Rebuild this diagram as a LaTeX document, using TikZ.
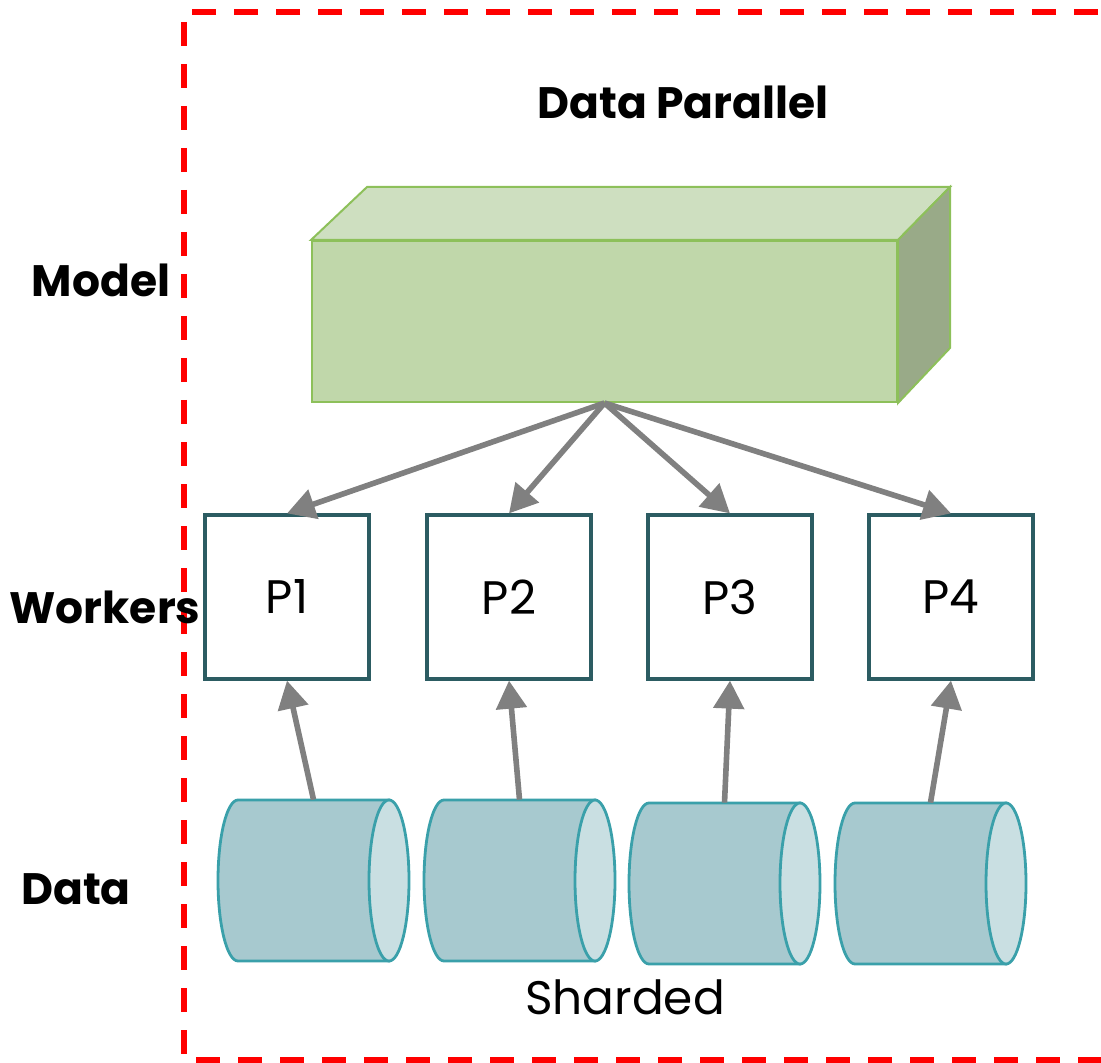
\documentclass[tikz,border=0pt]{standalone}
\usepackage{fontspec}
\setmainfont{Poppins}
\usetikzlibrary{arrows.meta}

\definecolor{modelfront}{HTML}{C0D7AA}
\definecolor{modeltop}{HTML}{CEDFC0}
\definecolor{modelside}{HTML}{99AA88}
\definecolor{modelline}{HTML}{8DC05A}
\definecolor{workerline}{HTML}{2C5C62}
\definecolor{cylbody}{HTML}{A7C9CF}
\definecolor{cylend}{HTML}{C9DFE2}
\definecolor{cylline}{HTML}{3AA0AA}
\definecolor{flowgray}{HTML}{808080}
\definecolor{frame}{HTML}{FF0000}

\tikzset{
  rowlabel/.style={font=\bfseries\fontsize{22}{25}\selectfont, inner sep=0pt},
  worker/.style={draw=workerline, line width=1.6pt, fill=white,
    minimum width=82pt, minimum height=82pt, inner sep=0pt,
    font=\fontsize{23.5}{26}\selectfont},
  flow/.style={draw=flowgray, line width=2.8pt,
    -{Triangle[length=14pt, width=15pt]}},
  pics/datacyl/.style={code={
    \path[fill=cylbody, draw=cylline, line width=1.4pt]
      (20,0) -- (171,0) -- (171,-161) -- (20,-161)
      arc[start angle=270, end angle=90, x radius=10pt, y radius=40.25pt] -- cycle;
    \path[fill=cylend, draw=cylline, line width=1.4pt]
      (171,-80.5) ellipse[x radius=10pt, y radius=40.25pt];
    \node[inner sep=0pt, minimum width=95.5pt, minimum height=80.5pt] (-body) at (95.5,-80.5) {};
  }}
}

\begin{document}
\begin{tikzpicture}[x=0.5pt, y=0.5pt]
\useasboundingbox (0,0) rectangle (1101,-1063);
\clip (0,0) rectangle (1101,-1063);

% dashed frame
\draw[frame, line width=2.6pt, dash pattern=on 12pt off 9pt]
  (1140,-12) -- (184,-12) -- (184,-1060) -- (1140,-1060);

% title and row labels
\node[rowlabel] (title) at (683,-102) {Data Parallel};
\node[rowlabel] (lmodel) at (101,-280) {Model};
\node[rowlabel] (lworkers) at (105,-607) {Workers};
\node[rowlabel] (ldata) at (76,-889) {Data};

% model block
\node[draw=modelline, line width=1pt, fill=modelfront, inner sep=0pt,
  minimum width=292.5pt, minimum height=80.5pt] (model) at (604.5,-321.5) {};
\path[fill=modeltop, draw=modelline, line width=1pt]
  (model.north west) -- (367,-187) -- (950,-187) -- (model.north east) -- cycle;
\path[fill=modelside, draw=modelline, line width=1pt]
  (model.north east) -- (950,-187) -- (950,-348) -- (model.south east) -- cycle;

% workers
\node[worker] (p1) at (287,-597) {P1};
\node[worker] (p2) at (509,-597) {P2};
\node[worker] (p3) at (730,-597) {P3};
\node[worker] (p4) at (951,-597) {P4};

% data shards
\pic (d1) at (218,-800) {datacyl};
\pic (d2) at (424,-800) {datacyl};
\pic (d3) at (629,-803) {datacyl};
\pic (d4) at (835,-803) {datacyl};
\node[font=\fontsize{23.5}{26}\selectfont, inner sep=0pt] (sharded) at (625,-997) {Sharded};

% model to workers
\foreach \p in {p1,p2,p3,p4}
  \draw[flow] (model.south) -- (\p.north);

% shards to workers
\foreach \d/\p in {d1/p1,d2/p2,d3/p3,d4/p4}
  \draw[flow] (\d-body.north) -- (\p.south);
\end{tikzpicture}
\end{document}
